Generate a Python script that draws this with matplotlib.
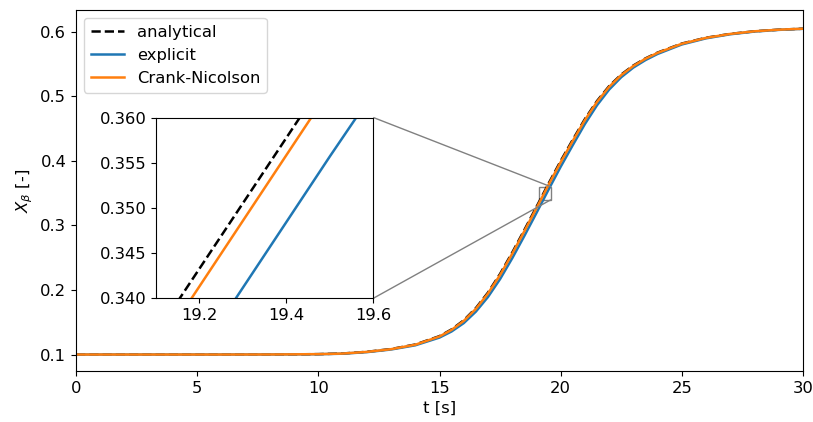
import numpy as np
import matplotlib
matplotlib.use("Agg")
import matplotlib.pyplot as plt
from mpl_toolkits.axes_grid1.inset_locator import mark_inset

plt.rcParams['font.size'] = 11.8

# time grid [s]
t = [0, 2, 4, 6, 8, 9, 10, 11, 12, 13, 14, 15, 15.5, 16, 16.5, 17, 17.5,
     18, 18.5, 19, 19.5, 20, 20.5, 21, 21.5, 22, 22.5, 23, 23.5, 24, 25,
     26, 27, 28, 29, 30]

# mole fraction X_beta for each solution
x_analytical = [0.1000, 0.1000, 0.1000, 0.1000, 0.1001, 0.1003, 0.1006,
                0.1016, 0.1042, 0.1085, 0.1155, 0.1285, 0.1390, 0.1530,
                0.1720, 0.1960, 0.2250, 0.2580, 0.2930, 0.3288, 0.3650,
                0.4000, 0.4330, 0.4650, 0.4930, 0.5160, 0.5340, 0.5480,
                0.5590, 0.5680, 0.5820, 0.5910, 0.5970, 0.6010, 0.6035,
                0.6050]
x_explicit = [0.1000, 0.1000, 0.1000, 0.1000, 0.1001, 0.1003, 0.1005,
              0.1013, 0.1037, 0.1078, 0.1143, 0.1263, 0.1358, 0.1487,
              0.1665, 0.1892, 0.2170, 0.2492, 0.2838, 0.3194, 0.3557,
              0.3911, 0.4246, 0.4573, 0.4864, 0.5107, 0.5299, 0.5448,
              0.5564, 0.5659, 0.5806, 0.5901, 0.5964, 0.6006, 0.6032,
              0.6049]
x_cn = [0.1000, 0.1000, 0.1000, 0.1000, 0.1001, 0.1003, 0.1006,
        0.1015, 0.1041, 0.1083, 0.1152, 0.1280, 0.1383, 0.1521,
        0.1708, 0.1946, 0.2233, 0.2562, 0.2911, 0.3268, 0.3631,
        0.3981, 0.4312, 0.4634, 0.4916, 0.5149, 0.5331, 0.5473,
        0.5585, 0.5676, 0.5817, 0.5908, 0.5969, 0.6010, 0.6035,
        0.6050]

# zoom window
ZOOM_T = (19.1, 19.6)
ZOOM_X = (0.340, 0.360)


def draw_curves(ax, with_labels=True):
    ax.plot(t, x_analytical, 'k--', lw=1.8, label='analytical' if with_labels else None)
    ax.plot(t, x_explicit, color='C0', lw=1.8, label='explicit' if with_labels else None)
    ax.plot(t, x_cn, color='C1', lw=1.8, label='Crank-Nicolson' if with_labels else None)


fig = plt.figure(figsize=(8.13, 4.22), dpi=100)
fig.subplots_adjust(left=0.0935, right=0.9877, bottom=0.1209, top=0.9763)
ax = fig.add_subplot(111)

draw_curves(ax)
ax.set_xlim(0, 30)
ax.set_ylim(0.0745, 0.634)
ax.set_xlabel('t [s]')
ax.set_ylabel(r'$X_\beta$ [-]')
ax.legend(loc='upper left')

axins = ax.inset_axes([0.110, 0.2014, 0.299, 0.5008])
draw_curves(axins, with_labels=False)
axins.set_xlim(*ZOOM_T)
axins.set_ylim(*ZOOM_X)
axins.set_xticks([19.2, 19.4, 19.6])
mark_inset(ax, axins, loc1=1, loc2=4, fc='none', ec='0.5')

fig.savefig('out.png', dpi=100)
